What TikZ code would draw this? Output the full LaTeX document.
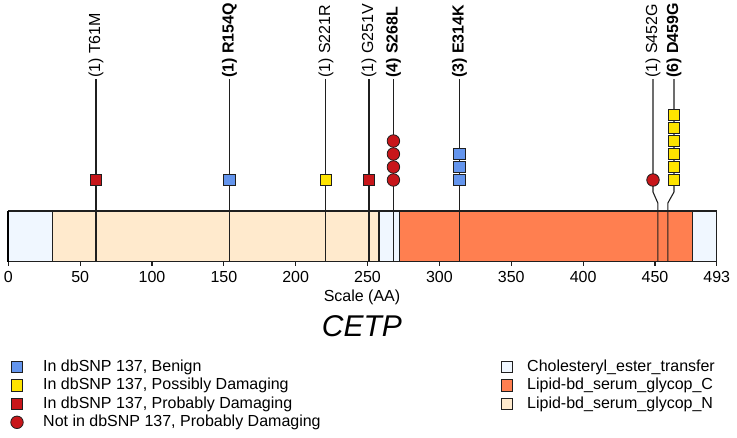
\documentclass[tikz,border=0pt]{standalone}
\usepackage{fontspec}
\setmainfont{Liberation Sans}
\usetikzlibrary{positioning}

\definecolor{benignC}{RGB}{100,149,237}
\definecolor{possC}{RGB}{255,228,0}
\definecolor{probC}{RGB}{200,22,26}
\definecolor{ceC}{RGB}{240,247,255}
\definecolor{lipC}{RGB}{255,127,80}
\definecolor{lipN}{RGB}{255,234,205}
\newcommand{\aapos}[1]{8.3+1.437*#1}

\begin{document}
\begin{tikzpicture}[
	x=1pt, y=-1pt,
	font=\fontsize{16}{19}\selectfont,
	stem/.style={draw=black!88, line width=1.1pt},
	dom/.style={draw=black!88, line width=1.1pt},
	snp/.style={rectangle, draw=black!88, line width=0.8pt, minimum size=11.5pt, inner sep=0pt},
	benign/.style={snp, fill=benignC},
	possible/.style={snp, fill=possC},
	probable/.style={snp, fill=probC},
	novel/.style={snp, circle, minimum size=12.5pt, fill=probC},
	mut/.style={rotate=90, anchor=west, inner sep=1pt},
	legtext/.style={anchor=west, inner sep=0pt}
]
\useasboundingbox (0,0) rectangle (737,437);

% protein bar and domains
\foreach \a/\b/\c in {0/31/ceC, 31/258/lipN, 258/272/ceC, 272/476/lipC, 476/493/ceC}
	\draw[dom, fill=\c] ({\aapos{\a}},211) rectangle ({\aapos{\b}},261.5);
\draw[line width=2pt] ({\aapos{0}},211) -- ({\aapos{0}},261.5);

% scale
\foreach \t in {0,50,...,450,493} {
	\draw[dom] ({\aapos{\t}},261.5) -- ({\aapos{\t}},266);
	\node (t\t) at ({\aapos{\t}},277) {\t};
}
\node (scale) at (362,297) {Scale (AA)};
\node[font=\fontsize{30}{36}\selectfont\itshape] (gene) at (362,326) {CETP};

% variants
\coordinate (b61) at ({\aapos{61}},261);
\node[mut] (l61) at ({\aapos{61}},79) {(1) T61M};
\draw[stem] (b61) -- (l61.west);
\node[probable] (m61) at ({\aapos{61}},180) {};

\coordinate (b154) at ({\aapos{154}},261);
\node[mut, font=\fontsize{16}{19}\selectfont\bfseries] (l154) at ({\aapos{154}},79) {(1) R154Q};
\draw[stem] (b154) -- (l154.west);
\node[benign] (m154) at ({\aapos{154}},180) {};

\coordinate (b221) at ({\aapos{221}},261);
\node[mut] (l221) at ({\aapos{221}},79) {(1) S221R};
\draw[stem] (b221) -- (l221.west);
\node[possible] (m221) at ({\aapos{221}},180) {};

\coordinate (b251) at ({\aapos{251}},261);
\node[mut] (l251) at ({\aapos{251}},79) {(1) G251V};
\draw[stem] (b251) -- (l251.west);
\node[probable] (m251) at ({\aapos{251}},180) {};

\coordinate (b268) at ({\aapos{268}},261);
\node[mut, font=\fontsize{16}{19}\selectfont\bfseries] (l268) at ({\aapos{268}},79) {(4) S268L};
\draw[stem] (b268) -- (l268.west);
\foreach \k in {0,...,3}
	\node[novel] (m268-\k) at ({\aapos{268}},180-13*\k) {};

\coordinate (b314) at ({\aapos{314}},261);
\node[mut, font=\fontsize{16}{19}\selectfont\bfseries] (l314) at ({\aapos{314}},79) {(3) E314K};
\draw[stem] (b314) -- (l314.west);
\foreach \k in {0,...,2}
	\node[benign] (m314-\k) at ({\aapos{314}},180-13*\k) {};

\coordinate (b452) at ({\aapos{452}},261);
\coordinate (k452) at ({\aapos{452}},203);
\coordinate (j452) at (653,192);
\node[mut] (l452) at (653,79) {(1) S452G};
\draw[stem] (b452) -- (k452) -- (j452) -- (l452.west);
\node[novel] (m452) at (653,180) {};

\coordinate (b459) at ({\aapos{459}},261);
\coordinate (k459) at ({\aapos{459}},203);
\coordinate (j459) at (674,192);
\node[mut, font=\fontsize{16}{19}\selectfont\bfseries] (l459) at (674,79) {(6) D459G};
\draw[stem] (b459) -- (k459) -- (j459) -- (l459.west);
\foreach \k in {0,...,5}
	\node[possible] (m459-\k) at (674,180-13*\k) {};

% legend
\node[benign] (lg1) at (17,367) {};
\node[possible] (lg2) at (17,385.5) {};
\node[probable] (lg3) at (17,404) {};
\node[novel] (lg4) at (17,422.3) {};
\node[legtext] (lt1) at (43,367) {In dbSNP 137, Benign};
\node[legtext] (lt2) at (43,385.5) {In dbSNP 137, Possibly Damaging};
\node[legtext] (lt3) at (43,404) {In dbSNP 137, Probably Damaging};
\node[legtext] (lt4) at (43,422.3) {Not in dbSNP 137, Probably Damaging};

\node[snp, fill=ceC] (ld1) at (507,367) {};
\node[snp, fill=lipC] (ld2) at (507,385.5) {};
\node[snp, fill=lipN] (ld3) at (507,404) {};
\node[legtext] (ldt1) at (527,367) {Cholesteryl\_ester\_transfer};
\node[legtext] (ldt2) at (527,385.5) {Lipid-bd\_serum\_glycop\_C};
\node[legtext] (ldt3) at (527,404) {Lipid-bd\_serum\_glycop\_N};
\end{tikzpicture}
\end{document}
